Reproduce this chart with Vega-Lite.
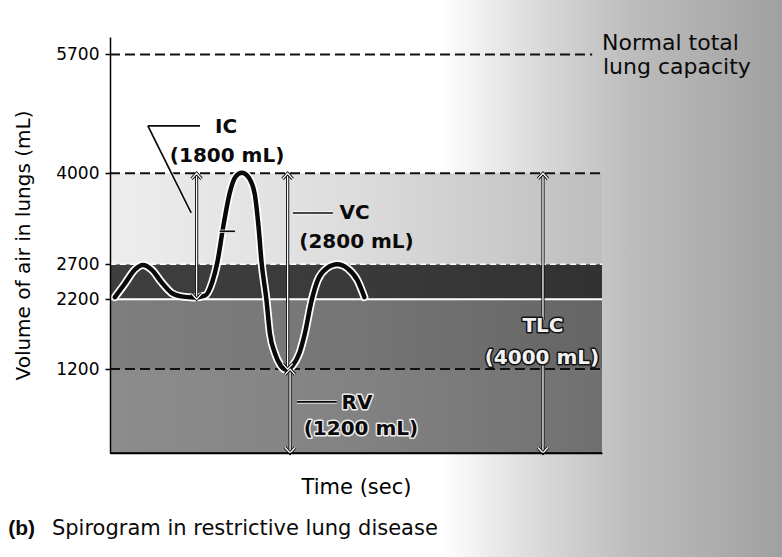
{
  "$schema": "https://vega.github.io/schema/vega-lite/v6.json",
  "width": 492,
  "height": 416,
  "autosize": {"type": "none"},
  "padding": {"left": 110, "top": 37, "right": 180, "bottom": 104},
  "background": "#ffffff",
  "config": {
    "view": {"stroke": null},
    "font": "DejaVu Sans",
    "axisY": {"zindex": 1, "format": "d", "domainColor": "#000000", "domainWidth": 1.5, "tickColor": "#000000", "tickSize": 5, "tickWidth": 1.5, "labelFont": "DejaVu Sans", "labelFontSize": 17, "labelColor": "#000000", "labelPadding": 6, "titleFont": "DejaVu Sans", "titleFontSize": 20, "titleFontWeight": "normal", "titleColor": "#000000", "titlePadding": 22, "grid": false},
    "axisX": {"zindex": 1, "domainColor": "#000000", "domainWidth": 1.5, "ticks": false, "labels": false, "titleFont": "DejaVu Sans", "titleFontSize": 21, "titleFontWeight": "normal", "titleColor": "#000000", "titlePadding": 23, "grid": false}
  },
  "datasets": {
    "bg": [{"from": 67, "to": 137, "lo": -1560, "hi": 6560}],
    "bands": [
      {"zone": "RV", "from": 0, "to": 100, "lo": 0, "hi": 1200},
      {"zone": "ERV", "from": 0, "to": 100, "lo": 1200, "hi": 2200},
      {"zone": "VT", "from": 0, "to": 100, "lo": 2200, "hi": 2700},
      {"zone": "IRV", "from": 0, "to": 100, "lo": 2700, "hi": 4000}
    ],
    "shade": [{"from": 0, "to": 100, "lo": 0, "hi": 4000}],
    "boundaries": [
      {"name": "FRC", "v": 2200, "from": 0, "to": 100},
      {"name": "EIL", "v": 2700, "from": 0, "to": 100},
      {"name": "floor", "v": 0, "from": 0, "to": 100}
    ],
    "levels": [
      {"name": "Normal TLC", "v": 5700, "from": 0, "to": 98},
      {"name": "TLC", "v": 4000, "from": 0, "to": 100},
      {"name": "RV", "v": 1200, "from": 0, "to": 100}
    ],
    "curve": [
      {"t": 1.0, "v": 2230}, {"t": 3.0, "v": 2420}, {"t": 5.0, "v": 2620}, {"t": 6.7, "v": 2690},
      {"t": 8.5, "v": 2620}, {"t": 10.5, "v": 2440}, {"t": 12.5, "v": 2290}, {"t": 14.5, "v": 2240},
      {"t": 17.0, "v": 2225}, {"t": 19.3, "v": 2250}, {"t": 20.8, "v": 2450}, {"t": 21.8, "v": 2720},
      {"t": 23.0, "v": 3230}, {"t": 24.3, "v": 3710}, {"t": 25.5, "v": 3950}, {"t": 26.8, "v": 4010},
      {"t": 28.1, "v": 3950}, {"t": 29.4, "v": 3710}, {"t": 30.2, "v": 3230}, {"t": 30.8, "v": 2730},
      {"t": 31.8, "v": 2190}, {"t": 32.5, "v": 1710}, {"t": 33.5, "v": 1430}, {"t": 34.7, "v": 1250},
      {"t": 35.9, "v": 1190}, {"t": 37.1, "v": 1250}, {"t": 38.5, "v": 1430}, {"t": 39.6, "v": 1710},
      {"t": 41.0, "v": 2190}, {"t": 42.2, "v": 2470}, {"t": 44.0, "v": 2640}, {"t": 46.2, "v": 2700},
      {"t": 48.3, "v": 2640}, {"t": 50.3, "v": 2470}, {"t": 51.7, "v": 2230}
    ],
    "arrows": [
      {"name": "IC", "t": 17.6, "lo": 2200, "hi": 4000},
      {"name": "VC", "t": 36.1, "lo": 1200, "hi": 4000},
      {"name": "RV", "t": 36.6, "lo": 0, "hi": 1200},
      {"name": "TLC", "t": 88.0, "lo": 1903, "hi": 4000},
      {"name": "TLC", "t": 88.0, "lo": 0, "hi": 1288}
    ],
    "heads": [
      {"name": "IC", "t": 17.6, "v": 4000, "dir": "up"},
      {"name": "IC", "t": 17.6, "v": 2200, "dir": "down"},
      {"name": "VC", "t": 36.1, "v": 4000, "dir": "up"},
      {"name": "VC", "t": 36.1, "v": 1200, "dir": "down"},
      {"name": "RV", "t": 36.6, "v": 1200, "dir": "up"},
      {"name": "RV", "t": 36.6, "v": 0, "dir": "down"},
      {"name": "TLC", "t": 88.0, "v": 4000, "dir": "up"},
      {"name": "TLC", "t": 88.0, "v": 0, "dir": "down"}
    ],
    "leaders": [
      {"name": "IC", "t0": 7.7, "v0": 4678, "t1": 18.3, "v1": 4678},
      {"name": "IC", "t0": 7.7, "v0": 4678, "t1": 16.5, "v1": 3433},
      {"name": "VT", "t0": 22.3, "v0": 3171, "t1": 25.4, "v1": 3171},
      {"name": "VC", "t0": 37.2, "v0": 3433, "t1": 45.3, "v1": 3433},
      {"name": "RV", "t0": 38.0, "v0": 730, "t1": 46.1, "v1": 730}
    ],
    "labels": [
      {"group": "IC", "t": 23.6, "v": 4657, "text": "IC"},
      {"group": "IC", "t": 23.8, "v": 4249, "text": "(1800 mL)"},
      {"group": "VC", "t": 49.7, "v": 3426, "text": "VC"},
      {"group": "VC", "t": 50.1, "v": 3019, "text": "(2800 mL)"},
      {"group": "RV", "t": 50.2, "v": 715, "text": "RV"},
      {"group": "RV", "t": 51.0, "v": 343, "text": "(1200 mL)"},
      {"group": "TLC", "t": 88.0, "v": 1817, "text": "TLC"},
      {"group": "TLC", "t": 87.8, "v": 1359, "text": "(4000 mL)"},
      {"group": "normal", "t": 100.0, "v": 5865, "text": "Normal total"},
      {"group": "normal", "t": 100.2, "v": 5522, "text": "lung capacity"},
      {"group": "panel", "t": -20.7, "v": -1087, "text": "(b)"},
      {"group": "caption", "t": -11.8, "v": -1087, "text": "Spirogram in restrictive lung disease"}
    ]
  },
  "layer": [
    {
      "data": {"name": "bg"},
      "mark": {"type": "rect", "clip": false, "fill": {"gradient": "linear", "x1": 0, "y1": 0, "x2": 1, "y2": 0, "stops": [{"offset": 0, "color": "#ffffff"}, {"offset": 0.3, "color": "#d8d8d8"}, {"offset": 0.55, "color": "#bdbdbd"}, {"offset": 1, "color": "#a0a0a0"}]}},
      "encoding": {
        "x": {"field": "from", "type": "quantitative", "scale": {"domain": [0, 100], "nice": false, "zero": false}, "axis": {"zindex": 1}, "title": "Time (sec)"},
        "x2": {"field": "to"},
        "y": {"field": "lo", "type": "quantitative", "scale": {"domain": [0, 5950], "nice": false, "zero": false}, "axis": {"values": [1200, 2200, 2700, 4000, 5700], "zindex": 1}, "title": "Volume of air in lungs (mL)"},
        "y2": {"field": "hi"}
      }
    },
    {
      "data": {"name": "bands"},
      "mark": {"type": "rect"},
      "encoding": {
        "x": {"field": "from", "type": "quantitative", "title": "Time (sec)"},
        "x2": {"field": "to"},
        "y": {"field": "lo", "type": "quantitative", "title": "Volume of air in lungs (mL)"},
        "y2": {"field": "hi"},
        "color": {"field": "zone", "type": "nominal", "scale": {"domain": ["RV", "ERV", "VT", "IRV"], "range": ["#8c8c8c", "#7e7e7e", "#3e3e3e", "#ededed"]}, "legend": null}
      }
    },
    {
      "data": {"name": "shade"},
      "mark": {"type": "rect", "fill": {"gradient": "linear", "x1": 0, "y1": 0, "x2": 1, "y2": 0, "stops": [{"offset": 0, "color": "rgba(0,0,0,0)"}, {"offset": 0.5, "color": "rgba(0,0,0,0.07)"}, {"offset": 1, "color": "rgba(0,0,0,0.2)"}]}},
      "encoding": {
        "x": {"field": "from", "type": "quantitative", "title": "Time (sec)"},
        "x2": {"field": "to"},
        "y": {"field": "lo", "type": "quantitative", "title": "Volume of air in lungs (mL)"},
        "y2": {"field": "hi"}
      }
    },
    {
      "data": {"name": "boundaries"},
      "transform": [{"filter": "datum.name === 'FRC'"}],
      "mark": {"type": "rule", "color": "#ffffff", "strokeWidth": 2},
      "encoding": {
        "x": {"field": "from", "type": "quantitative", "title": "Time (sec)"},
        "x2": {"field": "to"},
        "y": {"field": "v", "type": "quantitative", "title": "Volume of air in lungs (mL)"}
      }
    },
    {
      "data": {"name": "boundaries"},
      "transform": [{"filter": "datum.name === 'floor'"}],
      "mark": {"type": "rule", "color": "#000000", "strokeWidth": 1.5},
      "encoding": {
        "x": {"field": "from", "type": "quantitative", "title": "Time (sec)"},
        "x2": {"field": "to"},
        "y": {"field": "v", "type": "quantitative", "title": "Volume of air in lungs (mL)"}
      }
    },
    {
      "data": {"name": "boundaries"},
      "transform": [{"filter": "datum.name === 'EIL'"}],
      "mark": {"type": "rule", "color": "#ffffff", "strokeWidth": 1.5, "strokeDash": [6, 4]},
      "encoding": {
        "x": {"field": "from", "type": "quantitative", "title": "Time (sec)"},
        "x2": {"field": "to"},
        "y": {"field": "v", "type": "quantitative", "title": "Volume of air in lungs (mL)"}
      }
    },
    {
      "data": {"name": "levels"},
      "mark": {"type": "rule", "color": "#111111", "strokeWidth": 2, "strokeDash": [10, 5]},
      "encoding": {
        "x": {"field": "from", "type": "quantitative", "title": "Time (sec)"},
        "x2": {"field": "to"},
        "y": {"field": "v", "type": "quantitative", "title": "Volume of air in lungs (mL)"}
      }
    },
    {
      "data": {"name": "curve"},
      "mark": {"type": "line", "interpolate": "monotone", "color": "#ffffff", "strokeWidth": 8, "strokeCap": "round", "strokeJoin": "round"},
      "encoding": {
        "x": {"field": "t", "type": "quantitative", "title": "Time (sec)"},
        "y": {"field": "v", "type": "quantitative", "title": "Volume of air in lungs (mL)"}
      }
    },
    {
      "data": {"name": "curve"},
      "mark": {"type": "line", "interpolate": "monotone", "color": "#0a0a0a", "strokeWidth": 4.5, "strokeCap": "round", "strokeJoin": "round"},
      "encoding": {
        "x": {"field": "t", "type": "quantitative", "title": "Time (sec)"},
        "y": {"field": "v", "type": "quantitative", "title": "Volume of air in lungs (mL)"}
      }
    },
    {
      "data": {"name": "arrows"},
      "mark": {"type": "rule", "color": "#111111", "strokeWidth": 3.2},
      "encoding": {
        "x": {"field": "t", "type": "quantitative", "title": "Time (sec)"},
        "y": {"field": "lo", "type": "quantitative", "title": "Volume of air in lungs (mL)"},
        "y2": {"field": "hi"}
      }
    },
    {
      "data": {"name": "arrows"},
      "mark": {"type": "rule", "color": "#ffffff", "strokeWidth": 1.3},
      "encoding": {
        "x": {"field": "t", "type": "quantitative", "title": "Time (sec)"},
        "y": {"field": "lo", "type": "quantitative", "title": "Volume of air in lungs (mL)"},
        "y2": {"field": "hi"}
      }
    },
    {
      "data": {"name": "heads"},
      "mark": {"type": "point", "filled": false, "stroke": "#111111", "strokeWidth": 3.2, "size": 100, "opacity": 1, "strokeJoin": "miter"},
      "encoding": {
        "x": {"field": "t", "type": "quantitative", "title": "Time (sec)"},
        "y": {"field": "v", "type": "quantitative", "title": "Volume of air in lungs (mL)"},
        "shape": {"field": "dir", "type": "nominal", "scale": {"domain": ["up", "down"], "range": ["M-1,1.1L0,0L1,1.1", "M-1,-1.1L0,0L1,-1.1"]}, "legend": null}
      }
    },
    {
      "data": {"name": "heads"},
      "mark": {"type": "point", "filled": false, "stroke": "#ffffff", "strokeWidth": 1.3, "size": 100, "opacity": 1, "strokeJoin": "miter"},
      "encoding": {
        "x": {"field": "t", "type": "quantitative", "title": "Time (sec)"},
        "y": {"field": "v", "type": "quantitative", "title": "Volume of air in lungs (mL)"},
        "shape": {"field": "dir", "type": "nominal", "legend": null}
      }
    },
    {
      "data": {"name": "leaders"},
      "mark": {"type": "rule", "color": "#ffffff", "strokeWidth": 3.5, "opacity": 0.8},
      "encoding": {
        "x": {"field": "t0", "type": "quantitative", "title": "Time (sec)"},
        "x2": {"field": "t1"},
        "y": {"field": "v0", "type": "quantitative", "title": "Volume of air in lungs (mL)"},
        "y2": {"field": "v1"}
      }
    },
    {
      "data": {"name": "leaders"},
      "mark": {"type": "rule", "color": "#0a0a0a", "strokeWidth": 1.7},
      "encoding": {
        "x": {"field": "t0", "type": "quantitative", "title": "Time (sec)"},
        "x2": {"field": "t1"},
        "y": {"field": "v0", "type": "quantitative", "title": "Volume of air in lungs (mL)"},
        "y2": {"field": "v1"}
      }
    },
    {
      "data": {"name": "labels"},
      "transform": [{"filter": {"field": "group", "oneOf": ["IC", "VC"]}}],
      "mark": {"type": "text", "font": "DejaVu Sans", "fontWeight": "bold", "fontSize": 20, "color": "#0a0a0a", "align": "center", "baseline": "middle"},
      "encoding": {
        "x": {"field": "t", "type": "quantitative", "title": "Time (sec)"},
        "y": {"field": "v", "type": "quantitative", "title": "Volume of air in lungs (mL)"},
        "text": {"field": "text"}
      }
    },
    {
      "data": {"name": "labels"},
      "transform": [{"filter": {"field": "group", "oneOf": ["RV"]}}],
      "mark": {"type": "text", "font": "DejaVu Sans", "fontWeight": "bold", "fontSize": 20, "fill": "#ffffff", "stroke": "#ffffff", "strokeWidth": 3, "strokeJoin": "round", "opacity": 0.85, "align": "center", "baseline": "middle"},
      "encoding": {
        "x": {"field": "t", "type": "quantitative", "title": "Time (sec)"},
        "y": {"field": "v", "type": "quantitative", "title": "Volume of air in lungs (mL)"},
        "text": {"field": "text"}
      }
    },
    {
      "data": {"name": "labels"},
      "transform": [{"filter": {"field": "group", "oneOf": ["RV"]}}],
      "mark": {"type": "text", "font": "DejaVu Sans", "fontWeight": "bold", "fontSize": 20, "color": "#0a0a0a", "align": "center", "baseline": "middle"},
      "encoding": {
        "x": {"field": "t", "type": "quantitative", "title": "Time (sec)"},
        "y": {"field": "v", "type": "quantitative", "title": "Volume of air in lungs (mL)"},
        "text": {"field": "text"}
      }
    },
    {
      "data": {"name": "labels"},
      "transform": [{"filter": {"field": "group", "oneOf": ["TLC"]}}],
      "mark": {"type": "text", "font": "DejaVu Sans", "fontWeight": "bold", "fontSize": 20, "fill": "#111111", "stroke": "#111111", "strokeWidth": 3, "strokeJoin": "round", "align": "center", "baseline": "middle"},
      "encoding": {
        "x": {"field": "t", "type": "quantitative", "title": "Time (sec)"},
        "y": {"field": "v", "type": "quantitative", "title": "Volume of air in lungs (mL)"},
        "text": {"field": "text"}
      }
    },
    {
      "data": {"name": "labels"},
      "transform": [{"filter": {"field": "group", "oneOf": ["TLC"]}}],
      "mark": {"type": "text", "font": "DejaVu Sans", "fontWeight": "bold", "fontSize": 20, "color": "#f2f2f2", "align": "center", "baseline": "middle"},
      "encoding": {
        "x": {"field": "t", "type": "quantitative", "title": "Time (sec)"},
        "y": {"field": "v", "type": "quantitative", "title": "Volume of air in lungs (mL)"},
        "text": {"field": "text"}
      }
    },
    {
      "data": {"name": "labels"},
      "transform": [{"filter": {"field": "group", "oneOf": ["normal"]}}],
      "mark": {"type": "text", "font": "DejaVu Sans", "fontSize": 22, "color": "#0a0a0a", "align": "left", "baseline": "middle"},
      "encoding": {
        "x": {"field": "t", "type": "quantitative", "title": "Time (sec)"},
        "y": {"field": "v", "type": "quantitative", "title": "Volume of air in lungs (mL)"},
        "text": {"field": "text"}
      }
    },
    {
      "data": {"name": "labels"},
      "transform": [{"filter": {"field": "group", "oneOf": ["panel"]}}],
      "mark": {"type": "text", "font": "Liberation Sans", "fontWeight": "bold", "fontSize": 21, "color": "#0a0a0a", "align": "left", "baseline": "middle"},
      "encoding": {
        "x": {"field": "t", "type": "quantitative", "title": "Time (sec)"},
        "y": {"field": "v", "type": "quantitative", "title": "Volume of air in lungs (mL)"},
        "text": {"field": "text"}
      }
    },
    {
      "data": {"name": "labels"},
      "transform": [{"filter": {"field": "group", "oneOf": ["caption"]}}],
      "mark": {"type": "text", "font": "DejaVu Sans", "fontSize": 21, "color": "#0a0a0a", "align": "left", "baseline": "middle"},
      "encoding": {
        "x": {"field": "t", "type": "quantitative", "title": "Time (sec)"},
        "y": {"field": "v", "type": "quantitative", "title": "Volume of air in lungs (mL)"},
        "text": {"field": "text"}
      }
    }
  ]
}
